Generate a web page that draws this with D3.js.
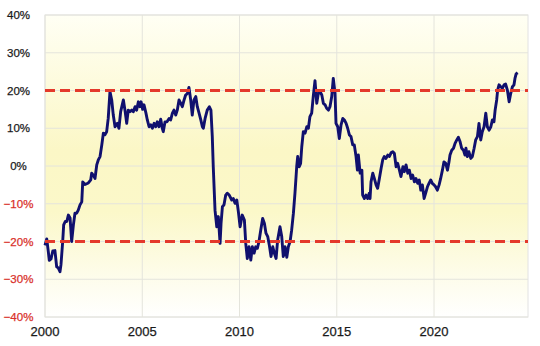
<!DOCTYPE html>
<html lang="ja">
<head>
<meta charset="UTF-8">
<title>chart</title>
<script src="https://cdn.jsdelivr.net/npm/d3@7"></script>
<style>
  body { margin: 0; background: #fff; }
  svg { display: block; font-family: "Liberation Sans", Arial, sans-serif; }
</style>
</head>
<body>
<div id="chart"></div>
<script>
// time as decimal year, value in %
const years = [
  2000.00, 2000.09, 2000.17, 2000.22, 2000.31, 2000.40, 2000.51, 2000.60, 2000.68, 2000.77,
  2000.82, 2000.91, 2000.96, 2001.04, 2001.12, 2001.20, 2001.29, 2001.37, 2001.46, 2001.54,
  2001.63, 2001.71, 2001.80, 2001.89, 2001.94, 2002.06, 2002.23, 2002.35, 2002.40, 2002.48,
  2002.57, 2002.66, 2002.74, 2002.83, 2002.92, 2003.00, 2003.08, 2003.17, 2003.25, 2003.34,
  2003.43, 2003.51, 2003.60, 2003.72, 2003.80, 2003.89, 2003.97, 2004.03, 2004.11, 2004.20,
  2004.28, 2004.37, 2004.46, 2004.54, 2004.63, 2004.71, 2004.80, 2004.88, 2004.94, 2005.02,
  2005.09, 2005.19, 2005.26, 2005.35, 2005.44, 2005.52, 2005.61, 2005.69, 2005.77, 2005.86,
  2005.95, 2006.03, 2006.08, 2006.17, 2006.27, 2006.38, 2006.46, 2006.55, 2006.63, 2006.72,
  2006.80, 2006.89, 2006.98, 2007.06, 2007.15, 2007.23, 2007.32, 2007.40, 2007.49, 2007.57,
  2007.66, 2007.75, 2007.83, 2007.92, 2008.01, 2008.09, 2008.14, 2008.23, 2008.34, 2008.45,
  2008.53, 2008.60, 2008.65, 2008.74, 2008.83, 2008.91, 2009.00, 2009.05, 2009.12, 2009.20,
  2009.29, 2009.37, 2009.47, 2009.60, 2009.68, 2009.77, 2009.86, 2009.94, 2010.03, 2010.14,
  2010.25, 2010.32, 2010.40, 2010.49, 2010.58, 2010.66, 2010.75, 2010.83, 2010.92, 2011.00,
  2011.09, 2011.19, 2011.28, 2011.36, 2011.45, 2011.53, 2011.62, 2011.71, 2011.79, 2011.88,
  2011.96, 2012.08, 2012.17, 2012.25, 2012.34, 2012.43, 2012.51, 2012.60, 2012.68, 2012.77,
  2012.85, 2012.94, 2012.99, 2013.07, 2013.14, 2013.20, 2013.28, 2013.37, 2013.46, 2013.54,
  2013.62, 2013.71, 2013.79, 2013.88, 2013.97, 2014.05, 2014.14, 2014.23, 2014.31, 2014.40,
  2014.48, 2014.57, 2014.65, 2014.74, 2014.82, 2014.91, 2014.96, 2015.05, 2015.13, 2015.22,
  2015.31, 2015.39, 2015.48, 2015.56, 2015.65, 2015.73, 2015.82, 2015.90, 2015.99, 2016.06,
  2016.11, 2016.20, 2016.29, 2016.33, 2016.42, 2016.50, 2016.59, 2016.67, 2016.71, 2016.76,
  2016.85, 2016.93, 2017.02, 2017.10, 2017.19, 2017.28, 2017.36, 2017.44, 2017.53, 2017.62,
  2017.70, 2017.79, 2017.88, 2017.96, 2018.05, 2018.13, 2018.22, 2018.30, 2018.40, 2018.47,
  2018.56, 2018.65, 2018.73, 2018.82, 2018.90, 2018.99, 2019.07, 2019.16, 2019.24, 2019.32,
  2019.40, 2019.49, 2019.57, 2019.66, 2019.74, 2019.83, 2019.91, 2020.00, 2020.08, 2020.17,
  2020.26, 2020.34, 2020.43, 2020.51, 2020.60, 2020.69, 2020.77, 2020.82, 2020.91, 2021.00,
  2021.08, 2021.17, 2021.25, 2021.34, 2021.42, 2021.51, 2021.59, 2021.64, 2021.71, 2021.79,
  2021.89, 2021.97, 2022.06, 2022.14, 2022.23, 2022.31, 2022.40, 2022.48, 2022.57, 2022.66,
  2022.74, 2022.83, 2022.92, 2023.00, 2023.08, 2023.14, 2023.22, 2023.27, 2023.34, 2023.43,
  2023.51, 2023.60, 2023.68, 2023.77, 2023.86, 2023.94, 2024.03, 2024.11, 2024.16, 2024.22,
  2024.30
];
const values = [
  -21.0, -19.3, -22.7, -25.0, -24.6, -22.5, -22.4, -26.7, -27.0, -28.0,
  -26.2, -20.0, -15.6, -14.7, -14.7, -13.0, -13.8, -20.0, -15.6, -12.5,
  -12.5, -11.7, -10.3, -9.5, -4.2, -4.9, -4.5, -3.7, -1.9, -2.4,
  -3.3, 0.3, 1.6, 2.5, 5.6, 8.7, 8.3, 9.1, 12.6, 19.7,
  17.5, 13.5, 10.4, 11.3, 10.0, 14.4, 16.2, 17.5, 14.8, 11.3,
  14.8, 14.4, 14.8, 14.4, 15.7, 14.8, 17.0, 15.7, 17.0, 15.0,
  16.2, 14.0, 12.2, 10.4, 10.9, 10.0, 11.3, 10.4, 11.7, 10.4,
  12.4, 10.0, 9.1, 11.7, 11.7, 12.6, 12.2, 14.0, 14.8, 13.5,
  14.8, 17.5, 16.6, 15.7, 17.5, 18.8, 19.2, 20.8, 17.5, 13.5,
  17.5, 18.4, 15.7, 14.0, 12.2, 10.4, 10.0, 12.6, 14.8, 15.7,
  14.8, 7.8, -0.2, -11.7, -16.1, -13.4, -20.5, -15.2, -10.8, -10.3,
  -7.7, -7.2, -7.7, -9.0, -8.6, -9.9, -9.0, -12.1, -16.1, -13.0,
  -14.3, -20.5, -24.5, -21.4, -24.9, -21.4, -23.1, -21.4, -21.8, -20.0,
  -17.0, -13.9, -15.2, -17.8, -18.7, -20.9, -24.0, -21.4, -23.1, -24.5,
  -19.6, -16.1, -18.7, -24.0, -21.4, -24.2, -21.4, -20.0, -17.0, -12.5,
  -7.2, -0.2, 2.5, -0.2, 0.7, 5.1, 9.1, 8.7, 10.4, 10.0,
  13.1, 14.0, 18.4, 22.6, 16.6, 19.2, 19.7, 18.8, 16.6, 16.2,
  15.3, 14.8, 15.7, 18.4, 23.2, 19.2, 11.3, 10.4, 7.3, 10.9,
  12.6, 12.2, 11.3, 10.0, 8.2, 7.8, 5.6, 5.6, 2.5, -1.1,
  2.9, -1.9, -1.1, -7.7, -8.6, -7.7, -8.6, -7.2, -8.6, -4.2,
  -1.9, -3.3, -5.0, -5.9, -3.3, -0.6, 1.6, 2.5, 2.0, 2.9,
  2.5, 3.5, 3.8, 3.3, -0.2, 0.7, -1.1, -2.8, -0.2, -1.5,
  0.3, -1.9, -1.1, -3.3, -2.4, -4.2, -3.3, -4.6, -3.7, -6.4,
  -5.0, -8.6, -7.2, -5.5, -4.6, -3.7, -4.6, -5.0, -5.5, -6.4,
  -5.0, -3.3, -1.1, 1.1, 0.7, -1.1, 1.1, 2.9, 4.2, 4.7,
  6.0, 6.9, 7.6, 6.4, 4.7, 4.2, 2.9, 4.7, 2.5, 3.8,
  2.0, 2.5, 4.7, 6.9, 7.8, 11.3, 6.9, 9.1, 10.4, 14.0,
  10.4, 9.5, 10.4, 12.2, 11.7, 14.8, 17.5, 20.1, 21.5, 21.0,
  20.6, 21.5, 21.7, 20.1, 17.0, 19.2, 21.0, 21.5, 23.2, 24.4,
  24.7
];
const yTicks = [-40, -30, -20, -10, 0, 10, 20, 30, 40];
const xTicks = [2000, 2005, 2010, 2015, 2020];
const bandLines = [20, -20];

const W = 540, H = 346;
const svg = d3.select("#chart").append("svg")
  .attr("width", W).attr("height", H);

const x = d3.scaleLinear().domain([2000, 2024.83]).range([45, 528]);
const y = d3.scaleLinear().domain([-40, 40]).range([317, 15]);

// background gradient
const grad = svg.append("defs").append("linearGradient")
  .attr("id", "bg").attr("x1", 0).attr("y1", 0).attr("x2", 0).attr("y2", 1);
grad.append("stop").attr("offset", "0%").attr("stop-color", "#fffff4");
grad.append("stop").attr("offset", "45%").attr("stop-color", "#fbf7c6");
grad.append("stop").attr("offset", "65%").attr("stop-color", "#fbf8c9");
grad.append("stop").attr("offset", "100%").attr("stop-color", "#ffffff");

svg.append("rect")
  .attr("x", x.range()[0]).attr("y", y.range()[1])
  .attr("width", x.range()[1] - x.range()[0])
  .attr("height", y.range()[0] - y.range()[1])
  .attr("fill", "url(#bg)")
  .attr("stroke", "#e2e2e2");

// grid lines
svg.append("g").selectAll("line").data(yTicks).join("line")
  .attr("x1", x.range()[0]).attr("x2", x.range()[1])
  .attr("y1", d => y(d)).attr("y2", d => y(d))
  .attr("stroke", "#e4e4dc").attr("stroke-width", 1);

svg.append("g").selectAll("line").data(xTicks).join("line")
  .attr("x1", d => x(d)).attr("x2", d => x(d))
  .attr("y1", y.range()[0]).attr("y2", y.range()[1])
  .attr("stroke", "#e4e4dc").attr("stroke-width", 1);

// y labels
const fmt = d3.format("d");
svg.append("g").selectAll("text").data(yTicks).join("text")
  .attr("x", 18.5).attr("y", d => y(d)).attr("dy", "0.36em")
  .attr("text-anchor", "middle")
  .attr("font-size", 11.5)
  .attr("fill", d => d < 0 ? "#d9302a" : "#1a1a1a")
  .attr("stroke", d => d < 0 ? "#d9302a" : "#1a1a1a")
  .attr("stroke-width", 0.25)
  .text(d => fmt(d) + "%");

// x labels
svg.append("g").selectAll("text").data(xTicks).join("text")
  .attr("x", d => x(d)).attr("y", 336)
  .attr("text-anchor", "middle")
  .attr("font-size", 13)
  .attr("fill", "#1a1a1a")
  .attr("stroke", "#1a1a1a")
  .attr("stroke-width", 0.25)
  .text(d => d);

// data line
const line = d3.line()
  .x((d, i) => x(years[i]))
  .y(d => y(d));

svg.append("path")
  .datum(values)
  .attr("fill", "none")
  .attr("stroke", "#10106e")
  .attr("stroke-width", 2.9)
  .attr("stroke-linejoin", "round")
  .attr("d", line);

// +-20% dashed lines
svg.append("g").selectAll("line").data(bandLines).join("line")
  .attr("x1", x.range()[0]).attr("x2", x.range()[1])
  .attr("y1", d => y(d)).attr("y2", d => y(d))
  .attr("stroke", "#e4392b").attr("stroke-width", 3)
  .attr("stroke-dasharray", "10,5");
</script>
</body>
</html>
